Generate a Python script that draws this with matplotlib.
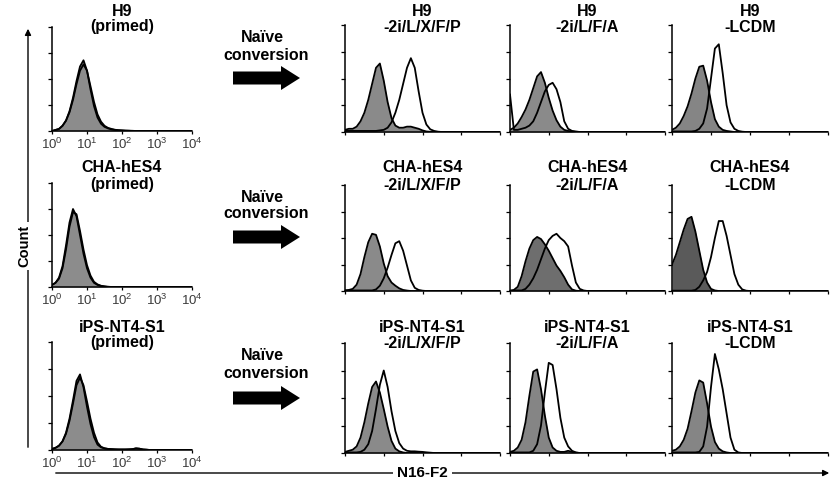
import numpy as np
import matplotlib
matplotlib.use("Agg")
import matplotlib.pyplot as plt
from matplotlib.ticker import LogLocator, NullFormatter
from matplotlib.patches import FancyArrow

plt.rcParams["font.family"] = ["Liberation Sans", "DejaVu Sans"]
plt.rcParams["mathtext.fontset"] = "custom"
plt.rcParams["mathtext.rm"] = "Liberation Sans"
plt.rcParams["mathtext.it"] = "Liberation Sans"

# ---------------- data ----------------
# histogram heights (% of max) sampled at log10(N16-F2) = 0.0, 0.1, 0.2, ... ; trailing zeros omitted
log_grid = np.round(np.arange(0, 4.0001, 0.1), 1)

row_names = ["H9", "CHA-hES4", "iPS-NT4-S1"]
conditions = ["-2i/L/X/F/P", "-2i/L/F/A", "-LCDM"]
tick_labels = [r"$10^{0}$", r"$10^{1}$", r"$10^{2}$", r"$10^{3}$", r"$10^{4}$"]

# primed (left column): filled control and outlined stain
h9_primed_fill = [0, 1, 2, 5, 10, 19, 32, 48, 62, 68, 58, 40, 24, 13, 7, 4, 2.5, 1.5, 1, 0.7, 0.5, 0.3, 0.2]
h9_primed_line = [0, 1, 2, 5, 10, 18, 30, 45, 58, 64, 58, 43, 28, 16, 9, 5, 3, 2, 1.2, 0.8, 0.6, 0.4, 0.3, 0.2]
cha_primed_fill = [2, 4, 9, 20, 40, 62, 75, 68, 50, 32, 18, 9, 4, 2, 1, 0.5]
cha_primed_line = [2, 4, 8, 18, 36, 58, 72, 70, 54, 36, 21, 11, 5, 2.5, 1.2, 0.6, 0.3]
ips_primed_fill = [1, 2, 4, 8, 16, 29, 46, 64, 70, 58, 40, 24, 12, 5, 2.5, 1.5, 1, 0.8, 0.6, 0.5, 0.5, 0.5, 0.6, 0.8, 1.5, 1.2, 0.5, 0.3]
ips_primed_line = [1, 2, 4, 8, 15, 27, 43, 60, 67, 60, 45, 29, 16, 7, 3, 1.6, 1, 0.8, 0.6, 0.5, 0.5, 0.5, 0.6, 0.8, 1.5, 1.2, 0.5, 0.3]

# naive conversions: gray = control, line = N16-F2
h9_2ilxfp_fill = [2, 3, 3, 5, 10, 18, 30, 45, 60, 64, 48, 28, 13, 6, 4, 4, 5, 5, 4, 3, 1.5, 0.5, 0.2]
h9_2ilxfp_line = [1, 1, 1, 1, 1, 1, 1, 1, 1, 1.5, 2, 4, 9, 18, 30, 45, 60, 69, 60, 38, 18, 7, 2.5, 1, 0.3]
h9_2ilfa_fill = [2, 4, 8, 14, 21, 30, 41, 52, 56, 46, 32, 20, 11, 5, 2, 1, 0.5]
h9_2ilfa_line = [35, 2, 2, 3, 4, 6, 10, 18, 28, 38, 44, 46, 40, 28, 10, 3, 1, 0.5]
h9_lcdm_fill = [2, 4, 8, 15, 24, 36, 50, 61, 62, 48, 28, 12, 5, 2, 1, 0.5]
h9_lcdm_line = [0.5, 0.5, 0.5, 0.5, 0.5, 0.5, 1, 3, 8, 22, 50, 78, 82, 55, 25, 9, 3, 1, 0.3]

cha_2ilxfp_fill = [0.5, 1, 2, 6, 16, 32, 46, 54, 53, 42, 26, 14, 8, 5, 2.5, 1, 0.4]
cha_2ilxfp_line = [0.5, 0.5, 0.5, 0.5, 0.5, 0.5, 0.5, 0.5, 1.5, 5, 12, 22, 34, 45, 47, 38, 24, 10, 3, 1, 0.3]
cha_2ilfa_fill = [0, 1, 4, 14, 28, 40, 48, 51, 49, 44, 38, 31, 24, 19, 13, 6, 1.5, 0.3]
cha_2ilfa_line = [0.5, 0.5, 0.5, 0.5, 2, 6, 12, 20, 30, 40, 48, 52, 54, 50, 47, 42, 24, 8, 2, 0.5]
cha_lcdm_fill = [25, 34, 46, 58, 68, 70, 56, 38, 20, 8, 2, 0.5]
cha_lcdm_line = [0.3, 0.3, 0.3, 0.3, 0.3, 0.3, 1, 4, 10, 18, 32, 50, 66, 66, 52, 34, 16, 6, 1.5, 0.3]

ips_2ilxfp_fill = [1, 2, 3, 6, 14, 28, 45, 60, 65, 55, 40, 24, 11, 4, 1.5, 0.5]
ips_2ilxfp_line = [0.5, 0.5, 0.5, 0.5, 1, 3, 8, 20, 40, 62, 75, 60, 38, 20, 9, 4, 2, 1.5, 1.5, 1.2, 1, 0.6, 0.3]
ips_2ilfa_fill = [1, 2, 5, 12, 28, 52, 74, 76, 58, 34, 14, 5, 2, 1, 1, 2, 1, 0.3]
ips_2ilfa_line = [0.5, 0.5, 0.5, 0.5, 0.5, 0.5, 2, 8, 25, 55, 82, 80, 58, 32, 14, 6, 2, 0.5]
ips_lcdm_fill = [2, 3, 6, 12, 22, 38, 55, 66, 64, 45, 24, 10, 4, 1.5, 0.5]
ips_lcdm_line = [0.5, 0.5, 0.5, 0.5, 0.5, 0.5, 0.5, 1, 6, 24, 60, 90, 76, 58, 36, 14, 3, 0.5]

primed = [(h9_primed_fill, h9_primed_line),
          (cha_primed_fill, cha_primed_line),
          (ips_primed_fill, ips_primed_line)]
naive = [[(h9_2ilxfp_fill, h9_2ilxfp_line), (h9_2ilfa_fill, h9_2ilfa_line), (h9_lcdm_fill, h9_lcdm_line)],
         [(cha_2ilxfp_fill, cha_2ilxfp_line), (cha_2ilfa_fill, cha_2ilfa_line), (cha_lcdm_fill, cha_lcdm_line)],
         [(ips_2ilxfp_fill, ips_2ilxfp_line), (ips_2ilfa_fill, ips_2ilfa_line), (ips_lcdm_fill, ips_lcdm_line)]]
fill_colors = [["#8a8a8a", "#8a8a8a", "#858585"],
               ["#8a8a8a", "#6e6e6e", "#5a5a5a"],
               ["#8a8a8a", "#858585", "#858585"]]

# ---------------- layout (pixels) ----------------
W, H = 840, 482
fig = plt.figure(figsize=(W / 100, H / 100), dpi=100)
fig.patch.set_facecolor("white")


def px_axes(left, top, right, bottom):
    return fig.add_axes([left / W, 1 - bottom / H, (right - left) / W, (bottom - top) / H])


def pad(v):
    v = list(v)
    return np.array(v + [0] * (len(log_grid) - len(v)), dtype=float)


def style(ax, labels):
    ax.set_xscale("log")
    ax.set_xlim(1, 1e4)
    ax.set_ylim(0, 100)
    ax.patch.set_alpha(0)
    for s in ["top", "right"]:
        ax.spines[s].set_visible(False)
    for s in ["left", "bottom"]:
        ax.spines[s].set_linewidth(1.1)
    ax.set_yticks([0, 25, 50, 75, 100])
    ax.set_yticklabels([])
    ax.tick_params(axis="y", direction="out", length=3, width=0.9)
    ax.set_xticks([1, 10, 100, 1000, 10000])
    ax.xaxis.set_minor_locator(LogLocator(base=10, subs=np.arange(2, 10)))
    ax.xaxis.set_minor_formatter(NullFormatter())
    ax.tick_params(axis="x", which="major", direction="out", length=2.5, width=0.9, pad=1.5)
    ax.tick_params(axis="x", which="minor", direction="out", length=1.5, width=0.7)
    if labels:
        ax.set_xticklabels(tick_labels, fontsize=9.5, color="#3a3a3a")
    else:
        ax.set_xticklabels([])


def draw(ax, fill, line, color):
    x = 10 ** log_grid
    f = pad(fill)
    l = pad(line)
    ax.fill_between(x, 0, f, color=color, lw=0, zorder=1)
    ax.plot(x, f, color="black", lw=1.3, zorder=2)
    ax.plot(x, l, color="black", lw=1.3, zorder=3)


left_rows = [(27, 131), (183, 287), (342, 450)]
right_rows = [(25, 132), (185, 291), (343, 453)]
right_cols = [(345, 500), (510, 665), (672, 828)]
title_y = [(11, 27), (168, 185), (327, 343)]
TFS = 11.5

for r in range(3):
    t, b = left_rows[r]
    ax = px_axes(52, t, 192, b)
    style(ax, True)
    draw(ax, primed[r][0], primed[r][1], "#8c8c8c")
    fig.text(122 / W, 1 - title_y[r][0] / H, row_names[r], ha="center", va="center",
             fontsize=TFS, fontweight="bold")
    fig.text(122 / W, 1 - title_y[r][1] / H, "(primed)", ha="center", va="center",
             fontsize=TFS, fontweight="bold")
    t, b = right_rows[r]
    for c in range(3):
        l, rr = right_cols[c]
        ax = px_axes(l, t, rr, b)
        style(ax, False)
        draw(ax, naive[r][c][0], naive[r][c][1], fill_colors[r][c])
        cx = (l + rr) / 2
        fig.text(cx / W, 1 - title_y[r][0] / H, row_names[r], ha="center", va="center",
                 fontsize=TFS, fontweight="bold")
        fig.text(cx / W, 1 - title_y[r][1] / H, conditions[c], ha="center", va="center",
                 fontsize=TFS, fontweight="bold")

# overlay in pixel coordinates
ov = fig.add_axes([0, 0, 1, 1], zorder=10)
ov.set_xlim(0, W)
ov.set_ylim(H, 0)
ov.axis("off")
ov.patch.set_alpha(0)

arrow_rows = [(38, 55, 78), (197, 214, 237), (356, 373, 398)]
for ny, cy, ay in arrow_rows:
    ov.text(262, ny, "Naïve", ha="center", va="center", fontsize=11.5, fontweight="bold")
    ov.text(266, cy, "conversion", ha="center", va="center", fontsize=11.5, fontweight="bold")
    ov.add_patch(FancyArrow(233, ay, 67, 0, width=13, head_width=24, head_length=19,
                            length_includes_head=True, color="black", lw=0))

# Count axis arrow
ov.annotate("", xy=(28, 26), xytext=(28, 450),
            arrowprops=dict(arrowstyle="-|>", color="black", lw=1.0, mutation_scale=9))
ov.text(24, 246, "Count", rotation=90, ha="center", va="center", fontsize=10.5, fontweight="bold",
        bbox=dict(facecolor="white", edgecolor="none", pad=2))

# N16-F2 axis arrow
ov.annotate("", xy=(832, 473), xytext=(53, 473),
            arrowprops=dict(arrowstyle="-|>", color="black", lw=1.0, mutation_scale=9))
ov.text(422, 473, "N16-F2", ha="center", va="center", fontsize=11, fontweight="bold",
        bbox=dict(facecolor="white", edgecolor="none", pad=3))

fig.savefig("out.png", dpi=100, facecolor="white")
